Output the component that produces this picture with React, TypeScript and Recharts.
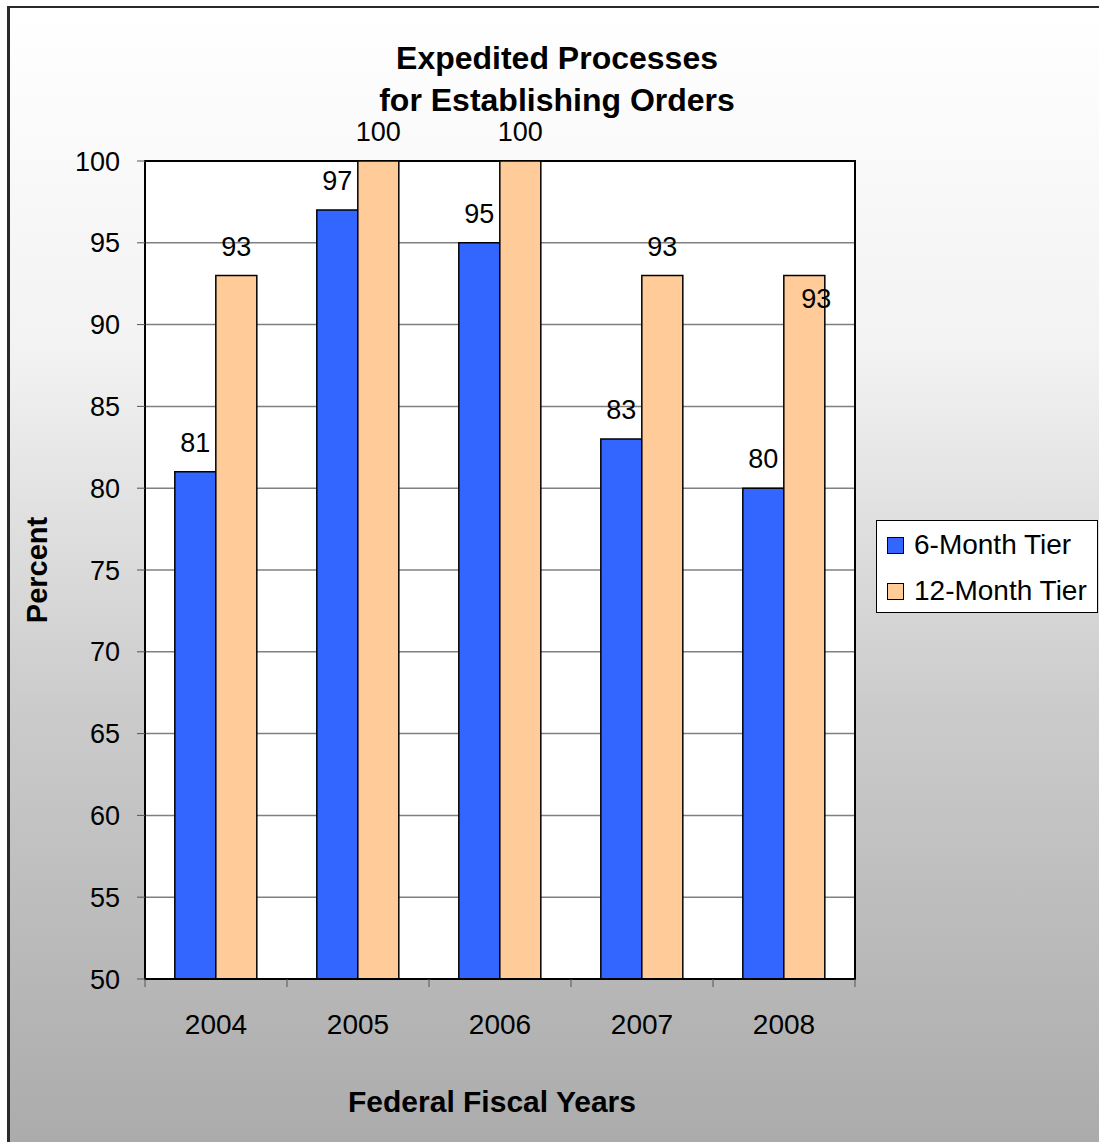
import React from 'react';
import { BarChart, Bar, XAxis, YAxis, CartesianGrid, LabelList, ReferenceArea } from 'recharts';

// Fiscal years on the x axis
const YEARS = ['2004', '2005', '2006', '2007', '2008'];
// Percent values
const SIX_MONTH = [81, 97, 95, 83, 80];
const TWELVE_MONTH = [93, 100, 100, 93, 93];
const Y_TICKS = [50, 55, 60, 65, 70, 75, 80, 85, 90, 95, 100];

const SERIES = [
  { key: 'six', name: '6-Month Tier', color: '#3366FF' },
  { key: 'twelve', name: '12-Month Tier', color: '#FFCC99' },
];

const chartData = YEARS.map((year, i) => ({
  year,
  six: SIX_MONTH[i],
  twelve: TWELVE_MONTH[i],
}));

const FONT = '"Liberation Sans", Arial, sans-serif';

// x tick: label at the category centre, tick mark at the category boundaries
const YearTick = (props: any) => {
  const { x, y, payload, index, visibleTicksCount } = props;
  const half = payload?.offset ?? 71;
  const top = y - 8;
  return (
    <g>
      <line x1={x - half} y1={top} x2={x - half} y2={top + 8} stroke="#555" strokeWidth={1} />
      {index === visibleTicksCount - 1 && (
        <line x1={x + half} y1={top} x2={x + half} y2={top + 8} stroke="#555" strokeWidth={1} />
      )}
      <text x={x} y={y + 47} textAnchor="middle" fontSize={28} fontFamily={FONT} fill="#000">
        {payload.value}
      </text>
    </g>
  );
};

const valueLabel = (shiftLast: boolean) => (props: any) => {
  const { x, y, width, value, index } = props;
  const last = shiftLast && index === YEARS.length - 1;
  const cx = x + width / 2 + (last ? 12 : 0);
  const ty = last ? y + 32 : y - 20;
  return (
    <text x={cx} y={ty} textAnchor="middle" fontSize={27} fontFamily={FONT} fill="#000">
      {value}
    </text>
  );
};

export default function App() {
  return (
    <div style={{ position: 'fixed', left: 0, top: 0, width: 1099, height: 1142, background: '#fff', overflow: 'hidden', fontFamily: FONT }}>
      <div
        style={{
          position: 'absolute',
          left: 7,
          top: 6,
          width: 1110,
          height: 1150,
          borderTop: '2px solid #2a2a2a',
          borderLeft: '3px solid #2a2a2a',
          background: 'linear-gradient(to bottom, #ffffff 0%, #f2f2f2 30%, #cccccc 60%, #aaaaaa 100%)',
        }}
      />
      <div style={{ position: 'absolute', left: 0, top: 0 }}>
        <BarChart
          width={1099}
          height={1142}
          data={chartData}
          margin={{ top: 161, right: 244, bottom: 0, left: 0 }}
          barCategoryGap="21%"
          barGap={0}
        >
          <CartesianGrid vertical={false} stroke="#808080" strokeWidth={1.5} fill="#ffffff" fillOpacity={1} />
          <XAxis
            dataKey="year"
            height={163}
            axisLine={{ stroke: '#000', strokeWidth: 2 }}
            tickLine={false}
            tick={<YearTick />}
            interval={0}
          />
          <YAxis
            width={145}
            domain={[50, 100]}
            ticks={Y_TICKS}
            interval={0}
            allowDataOverflow
            axisLine={{ stroke: '#000', strokeWidth: 2 }}
            tickLine={{ stroke: '#555' }}
            tickSize={8}
            tickMargin={17}
            tick={{ fontSize: 27, fill: '#000', fontFamily: FONT }}
          />
          <ReferenceArea y1={50} y2={100} fill="none" stroke="#000" strokeWidth={2} ifOverflow="extendDomain" />
          <Bar dataKey="six" name={SERIES[0].name} fill={SERIES[0].color} stroke="#000" strokeWidth={1.5} isAnimationActive={false}>
            <LabelList dataKey="six" content={valueLabel(false)} />
          </Bar>
          <Bar dataKey="twelve" name={SERIES[1].name} fill={SERIES[1].color} stroke="#000" strokeWidth={1.5} isAnimationActive={false}>
            <LabelList dataKey="twelve" content={valueLabel(true)} />
          </Bar>
        </BarChart>
      </div>

      <div style={{ position: 'absolute', left: 0, width: 1114, top: 37, textAlign: 'center', fontWeight: 'bold', fontSize: 32, lineHeight: '42px', color: '#000' }}>
        Expedited Processes
        <br />
        for Establishing Orders
      </div>

      <div
        style={{
          position: 'absolute',
          left: 37,
          top: 570,
          transform: 'translate(-50%, -50%) rotate(-90deg)',
          fontWeight: 'bold',
          fontSize: 29,
          whiteSpace: 'nowrap',
        }}
      >
        Percent
      </div>

      <div style={{ position: 'absolute', left: 0, width: 984, top: 1085, textAlign: 'center', fontWeight: 'bold', fontSize: 30 }}>
        Federal Fiscal Years
      </div>

      <div
        style={{
          position: 'absolute',
          left: 876,
          top: 520,
          width: 222,
          height: 93,
          background: '#fff',
          border: '1px solid #000',
          boxSizing: 'border-box',
        }}
      >
        {SERIES.map((s, i) => (
          <div key={s.key} style={{ position: 'absolute', left: 10, top: 8 + i * 46, display: 'flex', alignItems: 'center', fontSize: 28, whiteSpace: 'nowrap' }}>
            <span style={{ display: 'inline-block', width: 15, height: 15, background: s.color, border: '1px solid #000', marginRight: 10 }} />
            {s.name}
          </div>
        ))}
      </div>
    </div>
  );
}
